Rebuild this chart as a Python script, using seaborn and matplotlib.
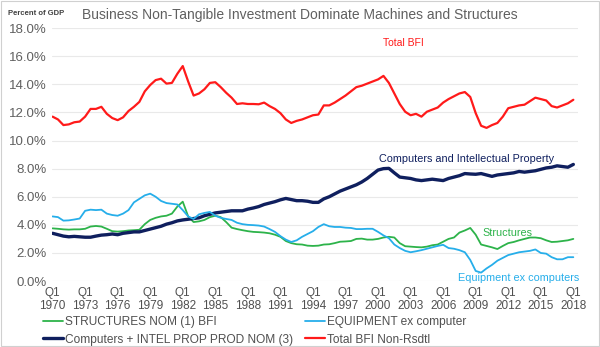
import numpy as np
import pandas as pd
import matplotlib
matplotlib.use("Agg")
import matplotlib.pyplot as plt
import seaborn as sns

# Semi-annual observations, 1970 H1 through 2018 H1 (percent of GDP)
start_year = 1970.0
step = 0.5

total_bfi = [
    11.7, 11.5, 11.1, 11.15, 11.3, 11.35, 11.7, 12.25, 12.25, 12.4,   # 1970-74
    11.9, 11.6, 11.45, 11.65, 12.1, 12.4, 12.75, 13.5, 13.95, 14.3,   # 1975-79
    14.4, 14.05, 14.1, 14.75, 15.3, 14.2, 13.2, 13.35, 13.65, 14.1,   # 1980-84
    14.15, 13.8, 13.4, 13.05, 12.6, 12.65, 12.6, 12.6, 12.58, 12.7,   # 1985-89
    12.45, 12.25, 11.95, 11.5, 11.25, 11.4, 11.5, 11.65, 11.8, 11.85, # 1990-94
    12.5, 12.5, 12.7, 12.95, 13.2, 13.5, 13.8, 13.9, 14.05, 14.2,     # 1995-99
    14.35, 14.6, 14.1, 13.35, 12.6, 12.05, 11.8, 11.9, 11.7, 12.05,   # 2000-04
    12.2, 12.35, 12.7, 12.95, 13.15, 13.35, 13.45, 13.1, 11.95, 11.05, # 2005-09
    10.9, 11.1, 11.25, 11.7, 12.3, 12.4, 12.5, 12.55, 12.8, 13.05,    # 2010-14
    12.95, 12.85, 12.45, 12.35, 12.5, 12.65,                          # 2015-17
    12.9,                                                             # 2018
]

computers_ip = [
    3.4, 3.3, 3.2, 3.15, 3.18, 3.15, 3.12, 3.12, 3.2, 3.27,          # 1970-74
    3.3, 3.35, 3.3, 3.4, 3.45, 3.5, 3.5, 3.6, 3.7, 3.8,              # 1975-79
    3.9, 4.05, 4.15, 4.28, 4.35, 4.4, 4.45, 4.5, 4.65, 4.75,         # 1980-84
    4.85, 4.9, 4.95, 5.0, 5.0, 5.0, 5.12, 5.2, 5.3, 5.45,            # 1985-89
    5.55, 5.65, 5.78, 5.88, 5.8, 5.72, 5.72, 5.68, 5.6, 5.6,         # 1990-94
    5.85, 6.0, 6.2, 6.4, 6.55, 6.7, 6.85, 7.05, 7.3, 7.6,            # 1995-99
    7.9, 8.0, 8.02, 7.7, 7.4, 7.35, 7.3, 7.2, 7.15, 7.2,             # 2000-04
    7.25, 7.2, 7.15, 7.3, 7.4, 7.5, 7.65, 7.62, 7.6, 7.65,           # 2005-09
    7.55, 7.45, 7.55, 7.6, 7.65, 7.7, 7.8, 7.75, 7.8, 7.85,          # 2010-14
    7.95, 8.05, 8.1, 8.2, 8.15, 8.1,                                 # 2015-17
    8.3,                                                             # 2018
]

structures = [
    3.75, 3.72, 3.68, 3.66, 3.68, 3.68, 3.72, 3.88, 3.92, 3.88,      # 1970-74
    3.72, 3.55, 3.52, 3.55, 3.6, 3.62, 3.65, 4.05, 4.35, 4.5,        # 1975-79
    4.6, 4.65, 4.8, 5.3, 5.65, 4.6, 4.2, 4.25, 4.35, 4.55,           # 1980-84
    4.65, 4.55, 4.2, 3.8, 3.7, 3.62, 3.55, 3.5, 3.48, 3.45,          # 1985-89
    3.4, 3.3, 3.15, 2.85, 2.7, 2.62, 2.6, 2.52, 2.5, 2.52,           # 1990-94
    2.6, 2.62, 2.7, 2.8, 2.82, 2.85, 3.0, 3.02, 2.95, 2.95,          # 1995-99
    3.0, 3.1, 3.15, 3.1, 2.7, 2.48, 2.45, 2.42, 2.4, 2.45,           # 2000-04
    2.55, 2.6, 2.8, 3.0, 3.1, 3.45, 3.6, 3.78, 3.3, 2.6,             # 2005-09
    2.5, 2.4, 2.28, 2.5, 2.7, 2.78, 2.9, 3.0, 3.1, 3.1,              # 2010-14
    3.05, 2.9, 2.78, 2.8, 2.85, 2.9,                                 # 2015-17
    3.0,                                                             # 2018
]

equipment = [
    4.6, 4.55, 4.3, 4.32, 4.38, 4.45, 5.0, 5.08, 5.05, 5.08,         # 1970-74
    4.8, 4.7, 4.65, 4.8, 5.05, 5.6, 5.85, 6.1, 6.22, 6.0,            # 1975-79
    5.7, 5.55, 5.5, 5.45, 5.05, 4.6, 4.42, 4.75, 4.85, 4.92,         # 1980-84
    4.65, 4.5, 4.42, 4.35, 4.15, 4.05, 4.0, 3.98, 3.95, 3.88,        # 1985-89
    3.7, 3.5, 3.2, 2.95, 2.78, 2.9, 3.15, 3.35, 3.55, 3.85,          # 1990-94
    4.05, 3.9, 3.85, 3.85, 3.8, 3.78, 3.7, 3.7, 3.72, 3.72,          # 1995-99
    3.5, 3.25, 3.05, 2.6, 2.35, 2.15, 2.05, 2.12, 2.2, 2.3,          # 2000-04
    2.4, 2.5, 2.58, 2.35, 2.3, 2.2, 2.05, 1.5, 0.72, 0.6,            # 2005-09
    0.9, 1.15, 1.45, 1.65, 1.85, 1.95, 2.05, 2.1, 2.15, 2.25,        # 2010-14
    2.0, 1.95, 1.7, 1.55, 1.55, 1.7,                                 # 2015-17
    1.7,                                                             # 2018
]

tick_years = list(range(1970, 2019, 3))
tick_labels = [f"Q1\n{y}" for y in tick_years]
y_ticks = [0, 2, 4, 6, 8, 10, 12, 14, 16, 18]

legend_names = {
    "structures": "STRUCTURES NOM (1) BFI",
    "computers": "Computers + INTEL PROP PROD NOM (3)",
    "equipment": "EQUIPMENT ex computer",
    "total": "Total BFI Non-Rsdtl",
}

colors = {
    "structures": "#2DB34A",
    "computers": "#0F1F5E",
    "equipment": "#26AEEA",
    "total": "#FF1A1A",
}

n = len(total_bfi)
time = start_year + step * np.arange(n)
df = pd.DataFrame({
    "time": time,
    "total": total_bfi,
    "computers": computers_ip,
    "structures": structures,
    "equipment": equipment,
})

sns.set_theme(style="white")
plt.rcParams["font.family"] = ["Liberation Sans", "DejaVu Sans"]

fig = plt.figure(figsize=(6.0, 3.47), dpi=100)
ax = fig.add_axes([0.0867, 0.190, 0.877, 0.729])

widths = {"structures": 1.3, "computers": 2.4, "equipment": 1.3, "total": 1.6}
for key in ["structures", "computers", "equipment", "total"]:
    sns.lineplot(data=df, x="time", y=key, ax=ax, color=colors[key],
                 linewidth=widths[key], label=legend_names[key])

ax.set_xlim(1969.95, 2018.45)
ax.set_ylim(0, 18)
ax.set_yticks(y_ticks)
ax.set_yticklabels([f"{v:.1f}%" for v in y_ticks], fontsize=9.5, color="#606060")
ax.set_xticks(tick_years)
ax.set_xticklabels(tick_labels, fontsize=8.5, color="#505050", linespacing=1.15)
ax.tick_params(axis="both", length=0, pad=4)
ax.set_xlabel("")
ax.set_ylabel("")
ax.grid(axis="y", color="#E9E9E9", linewidth=0.8)
for s in ax.spines.values():
    s.set_visible(False)

# In-chart series labels
ax.text(2002.35, 16.95, "Total BFI", color=colors["total"], fontsize=7.5,
        ha="center", va="center")
ax.text(2008.2, 8.7, "Computers and Intellectual Property", color=colors["computers"],
        fontsize=7.8, ha="center", va="center")
ax.text(2011.9, 3.42, "Structures", color=colors["structures"], fontsize=7.8,
        ha="center", va="center")
ax.text(2013.0, 0.22, "Equipment ex computers", color=colors["equipment"], fontsize=7.8,
        ha="center", va="center")

# Title and unit label
fig.text(0.137, 0.957, "Business Non-Tangible Investment Dominate Machines and Structures",
         fontsize=10.0, color="#606060", ha="left", va="center")
fig.text(0.013, 0.962, "Percent of GDP", fontsize=5.5, fontweight="bold",
         color="#404040", ha="left", va="center")

leg = ax.legend(loc="upper left", bbox_to_anchor=(-0.027, -0.118), ncol=2,
                frameon=False, fontsize=8.6, handlelength=1.7, handletextpad=0.15,
                columnspacing=1.0, labelspacing=0.5, borderaxespad=0)
for t in leg.get_texts():
    t.set_color("#505050")

# Thin frame round the whole figure
fig.patches.append(plt.Rectangle((0.002, 0.002), 0.996, 0.996, transform=fig.transFigure,
                                 fill=False, edgecolor="#D0D0D0", linewidth=0.8))

fig.savefig("out.png", dpi=100)
